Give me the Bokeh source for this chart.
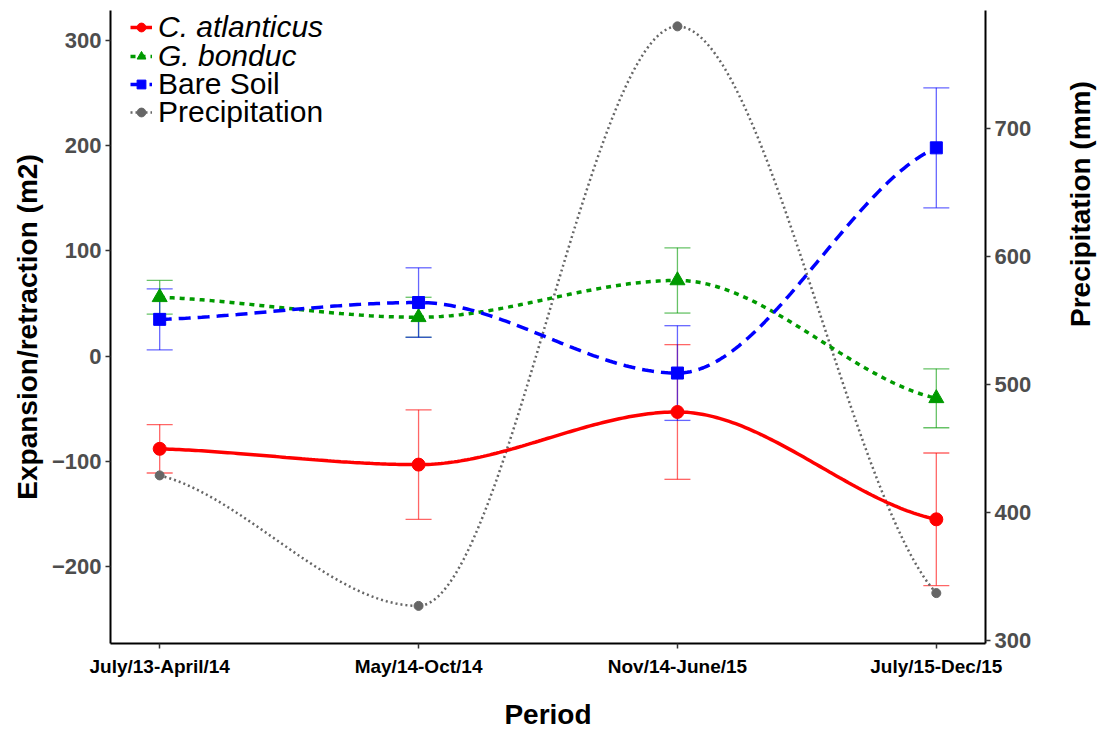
import numpy as np
from bokeh.plotting import figure
from bokeh.models import (Range1d, LinearAxis, Legend, LegendItem, FixedTicker,
                          Whisker, TeeHead, ColumnDataSource)
from bokeh.embed import file_html
from bokeh.resources import INLINE

periods = ["July/13-April/14", "May/14-Oct/14", "Nov/14-June/15", "July/15-Dec/15"]
x_pos = [1, 2, 3, 4]
atl_mean = [-88, -103, -53, -155]
atl_err = [23, 52, 64, 63]
bon_mean = [56, 37, 72, -40]
bon_err = [16, 19, 31, 28]
soil_mean = [35, 51, -16, 198]
soil_err = [29, 33, 45, 57]
precip = [429, 327, 780, 337]

RED, GREEN, BLUE, GREY = "#FF0000", "#009A00", "#0000FF", "#666666"
FONT = "Liberation Sans"


def smooth(xs, ys, steps=80):
    """Shape-preserving cubic Hermite curve through the points (drawing only)."""
    xs = np.asarray(xs, float)
    ys = np.asarray(ys, float)
    h = np.diff(xs)
    d = np.diff(ys) / h
    n = len(xs)
    m = np.zeros(n)
    for i in range(1, n - 1):
        if d[i - 1] * d[i] > 0:
            m[i] = 2 * d[i - 1] * d[i] / (d[i - 1] + d[i])
    m[0] = d[0] / 2
    m[-1] = d[-1] / 2
    ox, oy = [], []
    t = np.linspace(0, 1, steps, endpoint=False)
    for k in range(n - 1):
        h00 = 2 * t ** 3 - 3 * t ** 2 + 1
        h10 = t ** 3 - 2 * t ** 2 + t
        h01 = -2 * t ** 3 + 3 * t ** 2
        h11 = t ** 3 - t ** 2
        ox.extend(xs[k] + t * h[k])
        oy.extend(h00 * ys[k] + h10 * h[k] * m[k] + h01 * ys[k + 1] + h11 * h[k] * m[k + 1])
    ox.append(xs[-1])
    oy.append(ys[-1])
    return ox, oy


p = figure(frame_width=875, frame_height=633, output_backend="svg", toolbar_location=None,
           x_range=Range1d(0.81, 4.19), y_range=Range1d(-273, 328.5),
           min_border_left=110, min_border_right=123, min_border_top=10, min_border_bottom=87)
p.extra_y_ranges = {"precip": Range1d(297.6, 792.4)}
p.xgrid.visible = False
p.ygrid.visible = False
p.outline_line_color = None
p.background_fill_color = "white"
p.border_fill_color = "white"

# precipitation
gx, gy = smooth(x_pos, precip)
g_line = p.line(gx, gy, line_color=GREY, line_width=2.5, line_dash="2 3", y_range_name="precip")
g_pts = p.scatter(x_pos, precip, marker="circle", size=9, fill_color=GREY, line_color=GREY,
                  y_range_name="precip")

series = [
    (atl_mean, atl_err, RED, "solid", 3.5, "circle", 13),
    (bon_mean, bon_err, GREEN, "5 5", 3.5, "triangle", 15),
    (soil_mean, soil_err, BLUE, "12 7", 3.5, "square", 12),
]
rends = []
for mean, err, col, dash, lw, mk, sz in series:
    src = ColumnDataSource(dict(x=x_pos, up=[m + e for m, e in zip(mean, err)],
                                lo=[m - e for m, e in zip(mean, err)]))
    w = Whisker(source=src, base="x", upper="up", lower="lo", dimension="height",
                line_color=col, line_alpha=0.6, line_width=1.3,
                upper_head=TeeHead(size=26, line_color=col, line_alpha=0.6, line_width=1.3),
                lower_head=TeeHead(size=26, line_color=col, line_alpha=0.6, line_width=1.3))
    p.add_layout(w)
for mean, err, col, dash, lw, mk, sz in series:
    sx, sy = smooth(x_pos, mean)
    lr = p.line(sx, sy, line_color=col, line_width=lw, line_dash=dash)
    mr = p.scatter(x_pos, mean, marker=mk, size=sz, fill_color=col, line_color=col)
    rends.append((lr, mr))

# axes
p.xaxis.ticker = FixedTicker(ticks=x_pos)
p.xaxis.major_label_overrides = {i: lab for i, lab in zip(x_pos, periods)}
p.xaxis.axis_label = "Period"
p.yaxis.ticker = FixedTicker(ticks=[-200, -100, 0, 100, 200, 300])
p.yaxis.major_label_overrides = {-200: "\u2212200", -100: "\u2212100"}
p.yaxis.axis_label = "Expansion/retraction (m2)"

ax_r = LinearAxis(y_range_name="precip", axis_label="Precipitation (mm)",
                  ticker=FixedTicker(ticks=[300, 400, 500, 600, 700]))
p.add_layout(ax_r, "right")
try:
    ax_r.axis_label_orientation = np.pi / 2
except Exception:
    pass

for ax in [p.xaxis[0], p.yaxis[0], ax_r]:
    ax.axis_line_color = "black"
    ax.axis_line_width = 2
    ax.major_tick_line_color = "#333333"
    ax.major_tick_line_width = 1.5
    ax.major_tick_out = 5
    ax.major_tick_in = 0
    ax.minor_tick_line_color = None
    ax.major_label_text_font = FONT
    ax.major_label_text_font_style = "bold"
    ax.axis_label_text_font = FONT
    ax.axis_label_text_font_style = "bold"
    ax.axis_label_text_font_size = "28px"
    ax.axis_label_text_color = "black"

p.xaxis.major_label_text_font_size = "19px"
p.xaxis.major_label_text_color = "black"
p.xaxis.major_label_standoff = 7
p.xaxis.axis_label_standoff = 19
for ax in [p.yaxis[0], ax_r]:
    ax.major_label_text_font_size = "22px"
    ax.major_label_text_color = "#4D4D4D"
    ax.major_label_standoff = 4
p.yaxis.axis_label_standoff = 6
ax_r.axis_label_standoff = 46

# legend: one row per entry, placed from the frame's bottom-left corner
leg_common = dict(border_line_color=None, background_fill_alpha=0, padding=0, margin=0,
                  spacing=0, glyph_width=22, glyph_height=36, label_height=36,
                  label_standoff=6, label_text_font=FONT, label_text_font_size="30px",
                  label_text_color="black")
entries = [
    ("C. atlanticus", list(rends[0]), "italic", 598),
    ("G. bonduc", list(rends[1]), "italic", 569),
    ("Bare Soil", list(rends[2]), "normal", 541),
    ("Precipitation", [g_line, g_pts], "normal", 513),
]
for lab, rs, style, ypos in entries:
    lg = Legend(items=[LegendItem(label=lab, renderers=rs)], location=(20, ypos),
                label_text_font_style=style, **leg_common)
    p.add_layout(lg, "center")

open("out.html", "w").write(file_html(p, INLINE))
